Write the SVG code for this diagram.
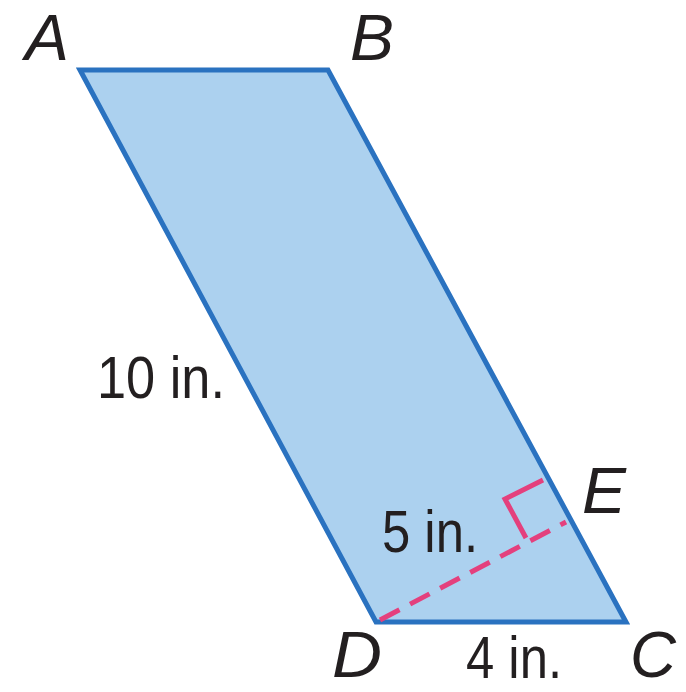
<svg xmlns="http://www.w3.org/2000/svg" width="686" height="692" viewBox="0 0 686 692">
<style>
.lbl{font-family:"Liberation Sans",Arial,sans-serif;font-size:64px;fill:#231f20;font-style:italic}
.meas{font-family:"Liberation Sans",Arial,sans-serif;font-size:60px;fill:#231f20}
.pink{stroke:#e4407d;stroke-width:5;fill:none}
</style>
<rect width="686" height="692" fill="#ffffff"/>
<g id="shape">
<polygon points="80,70 328,70 626,622 376,622" fill="#acd1ef" stroke="#2a72c0" stroke-width="5" stroke-linejoin="miter"/>
</g>
<g id="connectors">
<line class="pink" x1="380" y1="620" x2="566" y2="522" stroke-dasharray="22,12"/>
<polyline class="pink" points="543,480 505,499 526,538" stroke-width="3.5"/>
</g>
<g id="labels">
<text class="lbl" x="25" y="60" textLength="44" lengthAdjust="spacingAndGlyphs">A</text>
<text class="lbl" x="350" y="60" textLength="44" lengthAdjust="spacingAndGlyphs">B</text>
<text class="lbl" x="582" y="513" textLength="44" lengthAdjust="spacingAndGlyphs">E</text>
<text class="lbl" x="332" y="677" textLength="50" lengthAdjust="spacingAndGlyphs">D</text>
<text class="lbl" x="630" y="677" textLength="46" lengthAdjust="spacingAndGlyphs">C</text>
<text class="meas" x="97" y="398" textLength="128" lengthAdjust="spacingAndGlyphs">10 in.</text>
<text class="meas" x="382" y="552" textLength="96" lengthAdjust="spacingAndGlyphs">5 in.</text>
<text class="meas" x="466" y="678" textLength="96" lengthAdjust="spacingAndGlyphs">4 in.</text>
</g>
</svg>
